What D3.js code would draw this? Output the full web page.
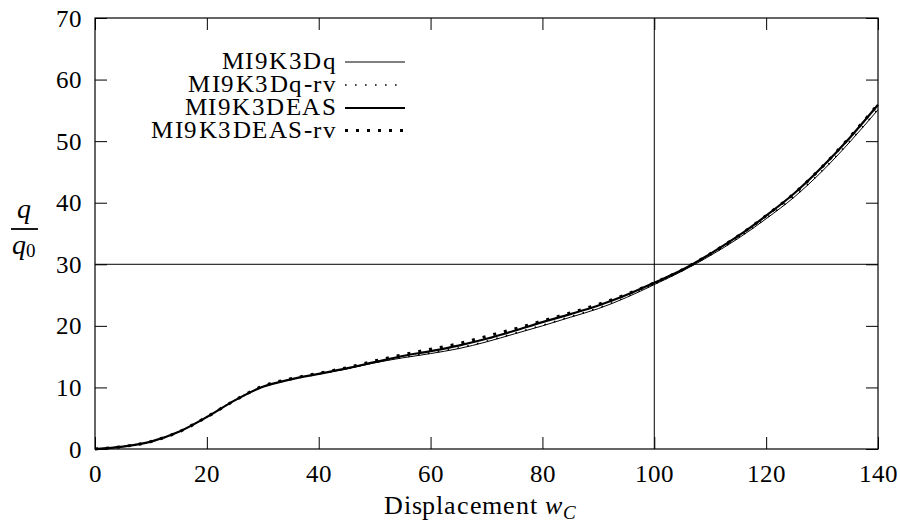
<!DOCTYPE html>
<html>
<head>
<meta charset="utf-8">
<script src="https://cdn.jsdelivr.net/npm/d3@7"></script>
<style>
@font-face { font-family: "ChartSerif"; src: local("Liberation Serif"), local("LiberationSerif"), local("Times New Roman"); font-style: normal; }
@font-face { font-family: "ChartSerif"; src: local("Liberation Serif Italic"), local("LiberationSerif-Italic"); font-style: italic; }
</style>
</head>
<body style="margin:0;padding:0;background:#fff">
<svg id="chart" width="900" height="520" style="display:block"></svg>
<script>
// ---- data ----
const displacement = [0, 5, 10, 15, 20, 25, 30, 35, 40, 45, 50, 55, 60, 65, 70, 75, 80, 85, 90, 95, 100, 105, 110, 115, 120, 125, 130, 135, 140];
const q_MI9K3Dq = [0, 0.4, 1.2, 2.8, 5.2, 7.9, 10.1, 11.3, 12.2, 13.0, 14.0, 14.8, 15.5, 16.3, 17.4, 18.7, 20.0, 21.4, 22.8, 24.6, 26.7, 28.9, 31.4, 34.2, 37.4, 40.9, 45.1, 49.9, 55.1];
const q_MI9K3Dq_rv = [0, 0.4, 1.2, 2.8, 5.2, 7.9, 10.1, 11.3, 12.2, 13.0, 14.1, 14.9, 15.6, 16.4, 17.5, 18.8, 20.1, 21.5, 22.9, 24.7, 26.8, 29.0, 31.5, 34.3, 37.5, 41.0, 45.2, 50.0, 55.2];
const q_MI9K3DEAS = [0, 0.4, 1.2, 2.8, 5.2, 7.9, 10.1, 11.3, 12.2, 13.1, 14.1, 15.1, 15.9, 16.8, 17.9, 19.2, 20.6, 21.9, 23.3, 25.0, 27.0, 29.1, 31.7, 34.6, 37.9, 41.5, 45.8, 50.6, 55.9];
const q_MI9K3DEAS_rv = [0, 0.4, 1.2, 2.8, 5.2, 7.9, 10.2, 11.4, 12.3, 13.2, 14.3, 15.3, 16.2, 17.1, 18.3, 19.5, 20.8, 22.1, 23.5, 25.1, 27.0, 29.1, 31.7, 34.6, 37.9, 41.5, 45.8, 50.7, 56.0];
const seriesNames = ["MI9K3Dq", "MI9K3Dq-rv", "MI9K3DEAS", "MI9K3DEAS-rv"];
const xTicks = [0, 20, 40, 60, 80, 100, 120, 140];
const yTicks = [0, 10, 20, 30, 40, 50, 60, 70];
const xRefLine = 100;
const yRefLine = 30;

const seriesValues = [q_MI9K3Dq, q_MI9K3Dq_rv, q_MI9K3DEAS, q_MI9K3DEAS_rv];
const styles = [
  { width: 1, dash: null },
  { width: 1.6, dash: "1.6,8.4" },
  { width: 2.2, dash: null },
  { width: 3, dash: "3,8" }
];
const FONT = "ChartSerif, 'Liberation Serif', FreeSerif, serif";

// ---- layout ----
const svg = d3.select("#chart");
const L = 95, R = 878, T = 18, B = 449;
const x = d3.scaleLinear().domain([0, 140]).range([L, R]);
const y = d3.scaleLinear().domain([0, 70]).range([B, T]);

// axes with inward ticks
const gx = svg.append("g").attr("transform", `translate(0,${B})`)
  .call(d3.axisBottom(x).tickValues(xTicks).tickSize(-12).tickPadding(15).tickFormat(d3.format("d")));
const gxt = svg.append("g").attr("transform", `translate(0,${T})`)
  .call(d3.axisTop(x).tickValues(xTicks).tickSize(-12).tickFormat(""));
const gy = svg.append("g").attr("transform", `translate(${L},0)`)
  .call(d3.axisLeft(y).tickValues(yTicks).tickSize(-12).tickPadding(13).tickFormat(d3.format("d")));
const gyr = svg.append("g").attr("transform", `translate(${R},0)`)
  .call(d3.axisRight(y).tickValues(yTicks).tickSize(-12).tickFormat(""));
[gx, gxt, gy, gyr].forEach(g => {
  g.select(".domain").remove();
  g.attr("font-family", FONT).attr("font-size", 25);
  g.selectAll(".tick line").attr("stroke", "#000").attr("stroke-width", 1);
  g.selectAll("text").attr("fill", "#000").style("font-family", FONT);
});

// reference lines
svg.append("line").attr("x1", x(xRefLine)).attr("x2", x(xRefLine)).attr("y1", T).attr("y2", B)
  .attr("stroke", "#000").attr("stroke-width", 1);
svg.append("line").attr("x1", L).attr("x2", R).attr("y1", y(yRefLine)).attr("y2", y(yRefLine))
  .attr("stroke", "#000").attr("stroke-width", 1);

// frame
svg.append("rect").attr("x", L).attr("y", T).attr("width", R - L).attr("height", B - T)
  .attr("fill", "none").attr("stroke", "#000").attr("stroke-width", 1.2);

// curves
const line = d3.line().x((d, i) => x(displacement[i])).y(d => y(d)).curve(d3.curveMonotoneX);
seriesValues.forEach((vals, k) => {
  const p = svg.append("path").datum(vals).attr("d", line)
    .attr("fill", "none").attr("stroke", "#000").attr("stroke-width", styles[k].width);
  if (styles[k].dash) p.attr("stroke-dasharray", styles[k].dash);
});

// legend
const legY = [62, 85, 108, 130.5];
seriesNames.forEach((name, k) => {
  svg.append("text").attr("x", 337).attr("y", legY[k] + 7).attr("text-anchor", "end")
    .style("font-family", FONT).attr("font-size", 25).attr("letter-spacing", 1.5).text(name);
  const l = svg.append("line").attr("x1", 345).attr("x2", 405).attr("y1", legY[k]).attr("y2", legY[k])
    .attr("stroke", "#000").attr("stroke-width", styles[k].width);
  if (styles[k].dash) l.attr("stroke-dasharray", styles[k].dash);
});

// y-axis label: q / q0
svg.append("text").attr("x", 24).attr("y", 218).attr("text-anchor", "middle")
  .style("font-family", FONT).attr("font-size", 28).attr("font-style", "italic").text("q");
svg.append("line").attr("x1", 11).attr("x2", 38).attr("y1", 229).attr("y2", 229)
  .attr("stroke", "#000").attr("stroke-width", 1.8);
const yl = svg.append("text").attr("x", 12).attr("y", 254)
  .style("font-family", FONT).attr("font-size", 28);
yl.append("tspan").attr("font-style", "italic").text("q");
yl.append("tspan").attr("font-size", 19).attr("dy", 3).text("0");

// x-axis label
const xl = svg.append("text").attr("x", 384).attr("y", 514)
  .style("font-family", FONT).attr("font-size", 26).attr("letter-spacing", 0.8);
xl.append("tspan").text("Displacement ");
xl.append("tspan").attr("font-style", "italic").text("w");
xl.append("tspan").attr("font-style", "italic").attr("font-size", 19).attr("dy", 5).text("C");
</script>
</body>
</html>
